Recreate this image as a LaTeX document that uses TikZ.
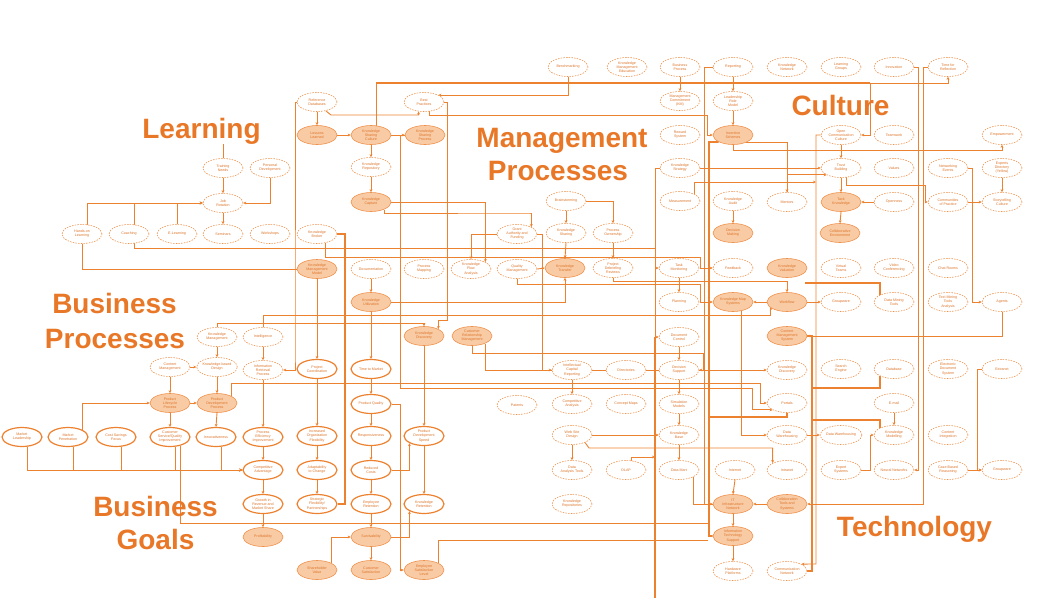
\documentclass[tikz,border=0pt]{standalone}
\usepackage{fontspec}
\setmainfont{Liberation Sans}
\usetikzlibrary{shapes.geometric,arrows.meta}
\pgfdeclarelayer{bg}
\pgfsetlayers{bg,main}
\definecolor{linec}{RGB}{236,130,48}
\definecolor{edgec}{RGB}{238,145,75}
\definecolor{fillc}{RGB}{249,203,165}
\definecolor{txtc}{RGB}{220,115,40}
\definecolor{titlec}{RGB}{232,120,40}
\tikzset{
 nb/.style={ellipse, minimum width=40pt, minimum height=19pt, inner sep=0pt, align=center, text=txtc, font=\fontsize{3.6}{4.1}\selectfont},
 dn/.style={nb, draw=edgec, dash pattern=on 1.5pt off 1.2pt, line width=0.6pt, fill=white},
 fn/.style={nb, draw=edgec, line width=0.6pt, fill=fillc},
 sn/.style={nb, draw=linec, line width=1.2pt, fill=white},
 ln/.style={draw=linec, line width=0.9pt},
 ar/.style={ln, -{Stealth[length=3pt,width=2.8pt]}},
 thk/.style={draw=linec, line width=1.9pt},
 ttl/.style={font=\fontsize{28}{33}\selectfont\bfseries, text=titlec, anchor=base, inner sep=0pt}
}
\begin{document}
\begin{tikzpicture}[x=1pt,y=-1pt]
\useasboundingbox (0,0) rectangle (1056,613);
% titles
\node[ttl] (lt1) at (201.5,138) {Learning};
\node[ttl] (mt1) at (562,147) {Management};
\node[ttl] (mt2) at (558,180) {Processes};
\node[ttl] (ct1) at (840.5,115) {Culture};
\node[ttl] (bp1) at (114.5,313) {Business};
\node[ttl] (bp2) at (115,348) {Processes};
\node[ttl] (bg1) at (155.5,516) {Business};
\node[ttl] (bg2) at (155.5,549) {Goals};
\node[ttl] (tt1) at (914.5,536) {Technology};
% row 67
\node[dn] (t1) at (568,67) {Benchmarking};
\node[dn] (t2) at (627,67) {Knowledge\\Management\\Education};
\node[dn] (t3) at (680,67) {Business\\Process};
\node[dn] (t4) at (733,67) {Reporting};
\node[dn] (t5) at (787,67) {Knowledge\\Network};
\node[dn] (t6) at (841,67) {Learning\\Groups};
\node[dn] (t7) at (894,67) {Innovation};
\node[dn] (t8) at (948,67) {Time for\\Reflection};
% row 102
\node[dn] (a1) at (317,102) {Reference\\Databases};
\node[dn] (a2) at (424,102) {Best\\Practices};
\node[dn] (a3) at (680,101) {Management\\Commitment\\(KM)};
\node[dn] (a4) at (733,101) {Leadership\\Role\\Model};
% row 135
\node[fn] (b1) at (317,135) {Lessons\\Learned};
\node[fn] (b2) at (371,135) {Knowledge\\Sharing\\Culture};
\node[fn] (b3) at (425,135) {Knowledge\\Sharing\\Process};
\node[dn] (b4) at (680,135) {Reward\\System};
\node[fn] (b5) at (733,135) {Incentive\\Schemes};
\node[dn] (b6) at (841,135) {Open\\Communication\\Culture};
\node[dn] (b7) at (894,135) {Teamwork};
\node[dn] (b8) at (1002,135) {Empowerment};
% row 168
\node[dn] (c1) at (223,168) {Training\\Needs};
\node[dn] (c2) at (270,168) {Personal\\Development};
\node[dn] (c3) at (371,167) {Knowledge\\Repository};
\node[dn] (c4) at (680,168) {Knowledge\\Strategy};
\node[dn] (c5) at (841,168) {Trust\\Building};
\node[dn] (c6) at (894,168) {Values};
\node[dn] (c7) at (948,168) {Networking\\Events};
\node[dn] (c8) at (1002,168) {Experts\\Directory\\(Yellow)};
% row 202
\node[dn] (d1) at (223,203) {Job\\Rotation};
\node[fn] (d2) at (371,202) {Knowledge\\Capture};
\node[dn] (d3) at (566,201) {Brainstorming};
\node[dn] (d4) at (680,201) {Measurement};
\node[dn] (d5) at (733,201) {Knowledge\\Audit};
\node[dn] (d6) at (787,202) {Mentors};
\node[fn] (d7) at (841,202) {Tacit\\Knowledge};
\node[dn] (d8) at (894,202) {Openness};
\node[dn] (d9) at (948,202) {Communities\\of Practice};
\node[dn] (d10) at (1002,202) {Storytelling\\Culture};
% row 234
\node[dn] (e1) at (82,234) {Hands-on\\Learning};
\node[dn] (e2) at (129,234) {Coaching};
\node[dn] (e3) at (177,234) {E-Learning};
\node[dn] (e4) at (223,234) {Seminars};
\node[dn] (e5) at (270,234) {Workshops};
\node[dn] (e6) at (317,234) {Knowledge\\Broker};
\node[dn] (e7) at (517,234) {Grant\\Authority and\\Funding};
\node[dn] (e8) at (566,233) {Knowledge\\Sharing};
\node[dn] (e9) at (613,233) {Process\\Ownership};
\node[fn] (e10) at (733,233) {Decision\\Making};
\node[fn] (e11) at (840,233) {Collaborative\\Environment};
% row 268
\node[fn] (g1) at (317,269) {Knowledge\\Management\\Model};
\node[dn] (g2) at (371,269) {Documentation};
\node[dn] (g3) at (424,269) {Process\\Mapping};
\node[dn] (g4) at (471,269) {Knowledge\\Flow\\Analysis};
\node[dn] (g5) at (517,269) {Quality\\Management};
\node[fn] (g6) at (565,268) {Knowledge\\Transfer};
\node[dn] (g7) at (613,268) {Project\\Debriefing\\Reviews};
\node[dn] (g8) at (679,268) {Task\\Monitoring};
\node[dn] (g9) at (733,268) {Feedback};
\node[fn] (g10) at (787,268) {Knowledge\\Valuation};
\node[dn] (g11) at (841,268) {Virtual\\Teams};
\node[dn] (g12) at (894,268) {Video\\Conferencing};
\node[dn] (g13) at (948,268) {Chat Rooms};
% row 302
\node[fn] (h1) at (371,302) {Knowledge\\Utilization};
\node[dn] (h2) at (679,302) {Planning};
\node[fn] (h3) at (733,302) {Knowledge Map\\Systems};
\node[fn] (h4) at (787,302) {Workflow};
\node[dn] (h5) at (841,302) {Groupware};
\node[dn] (h6) at (894,302) {Data Mining\\Tools};
\node[dn] (h7) at (948,302) {Text Mining\\Tools\\Analysis};
\node[dn] (h8) at (1002,302) {Agents};
% row 336
\node[dn] (i1) at (217,337) {Knowledge\\Management};
\node[dn] (i2) at (263,337) {Intelligence};
\node[fn] (i3) at (424,336) {Knowledge\\Discovery};
\node[fn] (i4) at (472,336) {Customer\\Relationship\\Management};
\node[dn] (i5) at (679,337) {Document\\Control};
\node[fn] (i6) at (787,336) {Content\\Management\\System};
% row 369
\node[dn] (j1) at (170,367) {Content\\Management};
\node[dn] (j2) at (217,367) {Knowledge-based\\Design};
\node[dn] (j3) at (263,370) {Information\\Retrieval\\Process};
\node[sn] (j4) at (317,369) {Project\\Coordination};
\node[sn] (j5) at (371,369) {Time to Market};
\node[dn] (j6) at (572,370) {Intellectual\\Capital\\Reporting};
\node[dn] (j7) at (626,370) {Directories};
\node[dn] (j8) at (679,370) {Decision\\Support};
\node[dn] (j9) at (787,370) {Knowledge\\Discovery};
\node[dn] (j10) at (841,369) {Search\\Engine};
\node[dn] (j11) at (894,369) {Database};
\node[dn] (j12) at (948,369) {Electronic\\Document\\System};
\node[dn] (j13) at (1002,369) {Extranet};
% row 403
\node[fn] (k1) at (170,403) {Product\\Lifecycle\\Process};
\node[fn] (k2) at (217,403) {Product\\Development\\Process};
\node[sn] (k3) at (371,404) {Product Quality};
\node[dn] (k4) at (517,405) {Patents};
\node[dn] (k5) at (572,404) {Competitive\\Analysis};
\node[dn] (k6) at (626,404) {Concept Maps};
\node[dn] (k7) at (679,404) {Simulation\\Models};
\node[dn] (k8) at (787,403) {Portals};
\node[dn] (k9) at (894,403) {E-mail};
% row 436
\node[sn] (l1) at (22,437) {Market\\Leadership};
\node[sn] (l2) at (68,437) {Market\\Penetration};
\node[sn] (l3) at (116,437) {Cost Savings\\Focus};
\node[sn] (l4) at (170,437) {Customer\\Service/Quality\\Improvement};
\node[sn] (l5) at (216,437) {Innovativeness};
\node[sn] (l6) at (263,437) {Process\\Efficiency\\Improvement};
\node[sn] (l7) at (317,436) {Increased\\Organization\\Flexibility};
\node[sn] (l8) at (371,436) {Responsiveness};
\node[sn] (l9) at (424,436) {Product\\Development\\Speed};
\node[dn] (l10) at (572,435) {Web Site\\Design};
\node[dn] (l11) at (679,435) {Knowledge\\Base};
\node[dn] (l12) at (787,435) {Data\\Warehousing};
\node[dn] (l13) at (841,435) {Data Warehousing};
\node[dn] (l14) at (894,435) {Knowledge\\Modelling};
\node[dn] (l15) at (948,435) {Content\\Integration};
% row 470
\node[sn] (m1) at (263,470) {Competitive\\Advantage};
\node[sn] (m2) at (317,470) {Adaptability\\to Change};
\node[sn] (m3) at (371,470) {Reduced\\Costs};
\node[dn] (m4) at (572,470) {Data\\Analysis Tools};
\node[dn] (m5) at (626,470) {OLAP};
\node[dn] (m6) at (679,470) {Data Mart};
\node[dn] (m7) at (735,470) {Internet};
\node[dn] (m8) at (787,470) {Intranet};
\node[dn] (m9) at (841,470) {Expert\\Systems};
\node[dn] (m10) at (894,470) {Neural Networks};
\node[dn] (m11) at (948,470) {Case-Based\\Reasoning};
\node[dn] (m12) at (1002,470) {Groupware};
% row 504
\node[sn] (o1) at (263,504) {Growth in\\Revenue and\\Market Share};
\node[sn] (o2) at (317,504) {Strategic\\Flexibility/\\Partnerships};
\node[sn] (o3) at (371,504) {Employee\\Retention};
\node[sn] (o4) at (424,504) {Knowledge\\Retention};
\node[dn] (o5) at (572,504) {Knowledge\\Repositories};
\node[fn] (o6) at (733,504) {IT\\Infrastructure\\Network};
\node[fn] (o7) at (787,504) {Collaboration\\Tools and\\Systems};
% row 537
\node[fn] (p1) at (263,537) {Profitability};
\node[fn] (p2) at (371,537) {Survivability};
\node[fn] (p3) at (733,536) {Information\\Technology\\Support};
% row 570
\node[fn] (q1) at (317,570) {Shareholder\\Value};
\node[fn] (q2) at (371,570) {Customer\\Satisfaction};
\node[fn] (q3) at (424,570) {Employee\\Satisfaction\\Level};
\node[dn] (q4) at (733,571) {Hardware\\Platforms};
\node[dn] (q5) at (787,571) {Communication\\Network};
\coordinate (k83) at (870,83);
\coordinate (s655) at (655,598);
\begin{pgfonlayer}{bg}
% learning
\draw[ar] (c1.south) -- (d1.north);
\draw[ar] (d1.south) -- (e4.north);
\draw[ar] (e3.north) |- (d1.west);
\draw[ar] (e2.60) |- (d1.west);
\draw[ar] (e1.60) |- (d1.west);
\draw[ar] (c2.south) |- (d1.east);
\draw[ln] (c1.north) -- (c1.north |- lt1.south);
\draw[ln] (e1.south) |- (g1.west);
\draw[ar] (e2.-60) |- (655,248) |- (g8.west);
\draw[ar] (e6.-45) |- (700,257) |- (g9.west);
\draw[ar] (a1.west) -| (295,355) |- (j3.east);
% top-left management
\draw[ar] (a1.south) -- (b1.north);
\draw[ar] (a1.-45) -- (331,115) -| (a2.-120);
\draw[ar] (a2.-60) |- (707,115) |- (b5.west);
\draw[ar] (t1.south) |- (a2.north east);
\draw[ar] (b1.east) -- (b2.west);
\draw[ar] (b2.east) -- (b3.west);
\draw[ar] (b2.south) -- (c3.north);
\draw[ar] (c3.south) -- (d2.north);
\draw[thk] (b2.60) |- (k83);
\draw[ar] (k83) |- (b6.east);
\draw[ar] (k83) -| (t8.south);
\draw[ar] (d2.east) -| (g4.north east);
\draw[ar] (d2.-30) |- (530,213) -| (e7.north east);
\draw[ar] (g2.south) -- (h1.north);
\draw[ar] (h1.south) -- (j5.north);
\draw[ar] (h1.east) -| (g6.south);
\draw[ar] (a2.east) -| (447,320) -| (i3.north east);
\draw[ar] (g1.south) -- (j4.north);
\draw[ar] (i3.south) -- (l9.north);
\draw[ar] (b3.west) -| (400,388) -- (752,388) |- (k8.south west);
\draw[thk] (p3.west) -| (709,142) -- (b5.south west);
\draw[thk] (e6.east) -| (345,504) -- (o2.east);
% business processes
\draw[ar] (i1.south) -- (j2.north);
\draw[ar] (j1.south) -- (k1.north);
\draw[ar] (j2.south) -- (k2.north);
\draw[ar] (j1.east) -- (j2.west);
\draw[ar] (k1.east) -- (k2.west);
\draw[ar] (k1.south) -- (l4.north);
\draw[ar] (k2.south) -- (l5.north);
\draw[ar] (l2.north east) |- (k1.west);
\draw[ar] (i2.south) -- (j3.north);
\draw[ar] (j3.south) -- (l6.north);
\draw[ar] (i1.north) -- (217,323) -- (424,323) -- (i3.north);
\draw[ar] (k2.north east) |- (760,383) |- (k8.west);
% business goals
\draw[ar] (l6.south) -- (m1.north);
\draw[ar] (m1.south) -- (o1.north);
\draw[ar] (o1.south) -- (p1.north);
\draw[ar] (j4.south) -- (l7.north);
\draw[ar] (l7.south) -- (m2.north);
\draw[ar] (m2.south) -- (o2.north);
\draw[ar] (j5.south) -- (k3.north);
\draw[ar] (k3.south) -- (l8.north);
\draw[ar] (l8.south) -- (m3.north);
\draw[ar] (m3.south) -- (o3.north);
\draw[ar] (o3.south) -- (p2.north);
\draw[ar] (p2.south) -- (q2.north);
\draw[ar] (l9.south) -- (o4.north);
\draw[ar] (m3.east) -| (l9.south west);
\draw[ar] (p2.east) -| (o4.south west);
\draw[ar] (q1.north east) |- (p2.west);
\draw[ln] (l4.-40) |- (708,523);
\draw[ln] (q3.north east) |- (708,540);
\draw[ar] (k3.east) -| (400,570) -- (q3.west);
\draw[ar] (l1.-60) |- (m1.west);
\draw[ar] (l2.-60) |- (m1.west);
\draw[ar] (l3.-60) |- (m1.west);
\draw[ar] (l4.-60) |- (m1.west);
\draw[ar] (l5.-60) |- (m1.west);
% management center
\draw[ar] (d3.south) -- (e8.north);
\draw[ar] (d3.east) -| (e9.north);
\draw[ar] (e8.south) -- (g6.north);
\draw[ar] (e9.south) -- (g7.north);
\draw[ar] (e7.west) -| (g4.north);
\draw[ar] (e7.east) -| (542,370) -- (j6.west);
\draw[ar] (g5.east) -- (g6.west);
\draw[ar] (g5.south) |- (700,284) |- (h3.west);
\draw[ar] (g7.south) |- (787,281) -- (h4.north);
\draw[ar] (i4.south) |- (703,353) |- (j8.east);
\draw[ar] (i4.-30) |- (j9.west);
\draw[ar] (i2.north) |- (770,315) |- (h4.south west);
% culture / right management
\draw[ar] (t4.south) -- (a4.north);
\draw[ar] (t3.south) -- (a3.north);
\draw[ar] (a4.south) -- (b5.north);
\draw[ar] (d5.south) -- (e10.north);
\draw[ar] (g8.south) -- (h2.north);
\draw[ar] (i5.south) -- (j8.north);
\draw[ar] (j8.south) -- (k7.north);
\draw[ar] (k7.south) -- (l11.north);
\draw[ar] (l11.south) -- (m6.north);
\draw[ar] (h4.west) -- (h3.east);
\draw[ar] (c4.west) -| (655,337) -- (i5.west);
\draw[thk] (655,337) -- (s655);
\draw[ln] (o6.west) -| (704,67) -- (t4.west);
\draw[ar] (b5.south) -- (733,150) -| (b8.south);
\draw[ar] (b5.-30) -| (d6.north);
\draw[ar] (d4.north east) |- (816,182);
\draw[ar] (c4.east) -- (c5.west);
\draw[ar] (d6.north) |- (c5.south west);
\draw[ar] (b6.south) -- (c5.north);
\draw[ar] (c5.south) -- (d7.north);
\draw[ar] (d7.south) -- (e11.north);
\draw[ar] (d8.west) -- (d7.east);
\draw[ar] (d9.east) -- (d10.west);
\draw[ar] (c8.south) -- (d10.north);
\draw[ar] (c5.-60) |- (925,185) |- (d9.west);
\draw[ar] (c7.east) -| (972,302) -- (h8.west);
\draw[ar] (h8.south) |- (i6.east);
\draw[thk] (i6.east) -| (812,571) -- (q5.east);
\draw[ar] (b6.west) -| (816,564) -- (q5.north east);
\draw[ar] (t7.east) -| (918,470) -- (m10.east);
\draw[ar] (t8.west) -| (923,504) -- (o7.east);
\draw[thk] (j11.south west) |- (812,388);
\draw[thk] (l14.north west) |- (812,420);
\draw[thk] (h6.south west) |- (805,283);
\draw[ar] (h4.east) -- (h5.west);
\draw[ar] (l12.east) -- (l13.west);
\draw[ar] (k9.south) -- (l14.north);
\draw[ar] (m9.east) -- (870,470) |- (l14.west);
\draw[ar] (m11.east) -- (m12.west);
\draw[ar] (j13.west) -| (977,470) -- (m12.west);
% technology
\draw[ar] (o6.south) -- (p3.north);
\draw[ar] (p3.south) -- (q4.north);
\draw[ar] (m7.south) -- (o6.north);
\draw[ar] (m6.south east) |- (o6.west);
\draw[ar] (o7.west) -- (o6.east);
\draw[ar] (l10.south) -- (m4.north);
\draw[ar] (j6.south) -- (k5.north);
\draw[ar] (l10.east) -- (l11.west);
\draw[ar] (l10.-30) -- (589,448) -| (m8.north west);
\draw[ar] (m5.60) |- (655,457);
\draw[ar] (h3.-45) |- (l12.west);
\draw[thk] (k8.south) |- (709,417);
\end{pgfonlayer}
\end{tikzpicture}
\end{document}
